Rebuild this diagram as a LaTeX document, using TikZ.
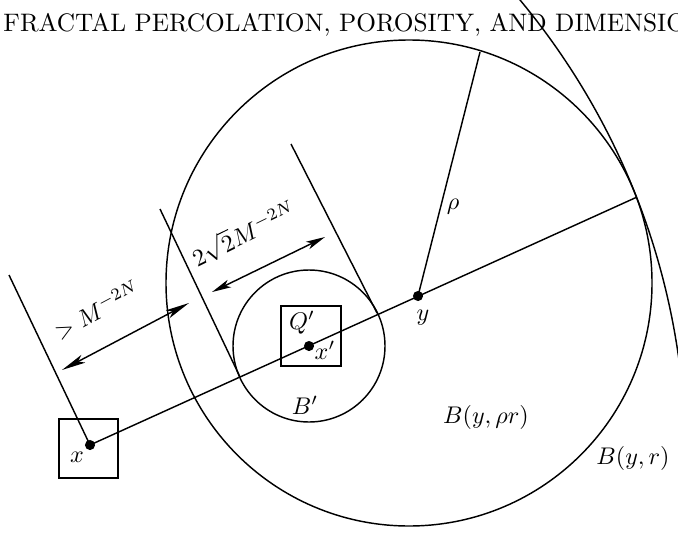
\documentclass[tikz,border=0pt]{standalone}
\usetikzlibrary{arrows.meta}
\begin{document}
\begin{tikzpicture}[x=0.415pt,y=-0.415pt,
  ln/.style={line width=0.6pt},
  dot/.style={circle,fill=black,inner sep=0pt,minimum size=4.2pt},
  lbl/.style={inner sep=0pt},
  dimA/.style={ln,{Stealth[length=10pt,width=3.6pt,inset=2.5pt]}-{Stealth[length=10pt,width=3.6pt,inset=2.5pt]}},
  dimB/.style={ln,{Stealth[length=8pt,width=3.4pt,inset=2pt]}-{Stealth[length=8pt,width=3.4pt,inset=2pt]}}]
\useasboundingbox (0,0) rectangle (678,535);
\clip (0,0) rectangle (678,535);
% title
\node[lbl,anchor=base west,font=\fontsize{10.5}{12}\selectfont] (title) at (3,31.5) {FRACTAL PERCOLATION, POROSITY, AND DIMENSION};
% centres and points
\coordinate (C) at (409,283);
\coordinate (BC) at (-32.3,458.8);
\coordinate (E) at (636,197.5);
\coordinate (R) at (480,52);
\coordinate (t1a) at (160,209);
\coordinate (t1b) at (240,377);
\coordinate (t2a) at (291,144);
\coordinate (t2b) at (377,313);
\coordinate (t3a) at (9,275);
\coordinate (a1) at (62,370);
\coordinate (a2) at (189,303);
\coordinate (b1) at (212,292);
\coordinate (b2) at (325,237);
% circles
\draw[ln] (C) circle[radius=243];
\draw[ln] (BC) circle[radius=718];
\node[dot] (xp) at (309,346) {};
\draw[ln] (xp) circle[radius=76];
% squares
\draw[ln] (281,306) rectangle (341,366);
\draw[ln] (59,419) rectangle (118,478);
% points
\node[dot] (y) at (418,296) {};
\node[dot] (x) at (90,445) {};
% lines
\draw[ln] (x.center) -- (E);
\draw[ln] (y.center) -- (R);
\draw[ln] (t1a) -- (t1b);
\draw[ln] (t2a) -- (t2b);
\draw[ln] (t3a) -- (x.center);
% dimension arrows
\draw[dimA] (a1) -- (a2);
\draw[dimB] (b1) -- (b2);
% labels
\node[lbl] (lrho) at (453,207) {$\rho$};
\node[lbl] (ly) at (423,318) {$y$};
\node[lbl] (lBr) at (486,417) {$B(y,\rho r)$};
\node[lbl] (lB) at (633,458) {$B(y,r)$};
\node[lbl] (lQ) at (302,323) {$Q'$};
\node[lbl] (lxp) at (325,350) {$x'$};
\node[lbl] (lBp) at (305,405) {$B'$};
\node[lbl] (lx) at (77,457) {$x$};
\node[lbl,rotate=28] (lgt) at (97,310) {$> M^{-2N}$};
\node[lbl,rotate=26] (lsq) at (244,234) {$2\sqrt{2}M^{-2N}$};
\end{tikzpicture}
\end{document}
